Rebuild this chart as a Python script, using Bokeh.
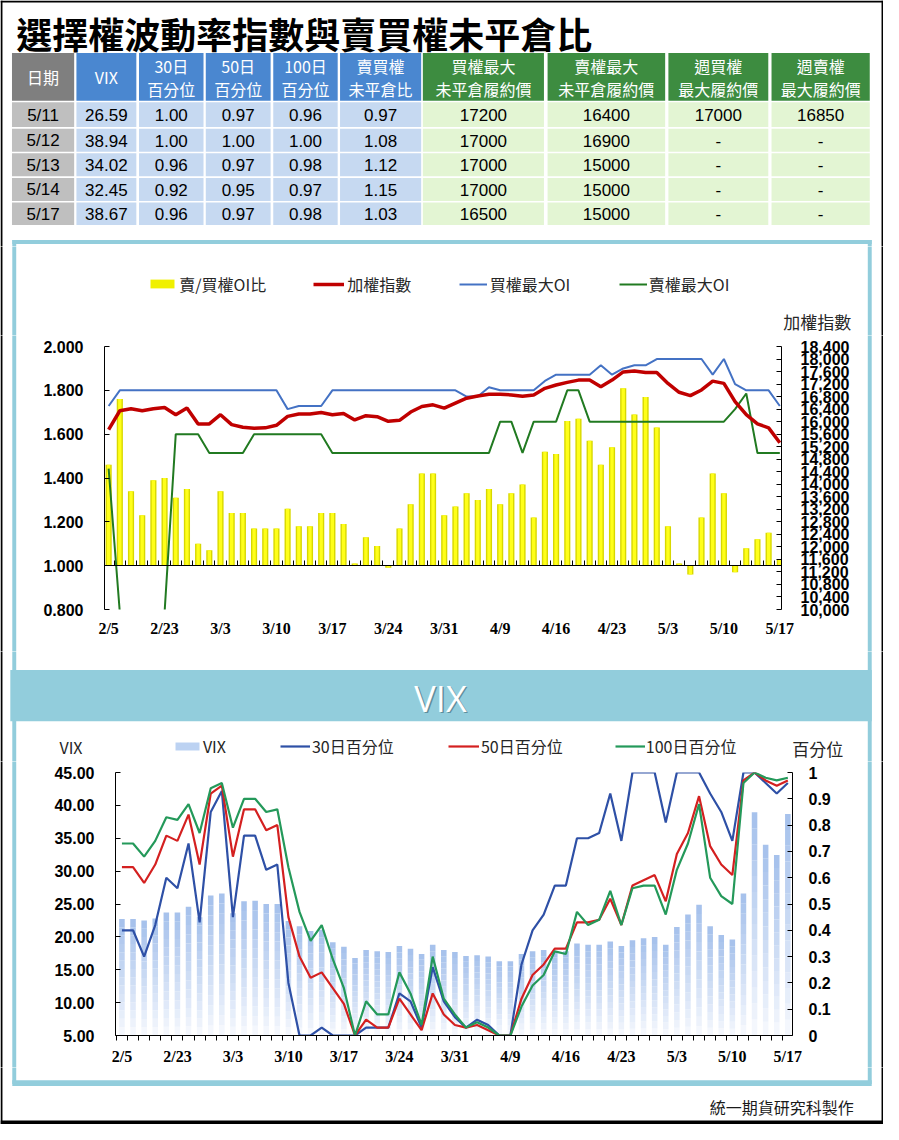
import numpy as np
from bokeh.plotting import figure
from bokeh.models import (Range1d, LinearAxis, FixedTicker, NumeralTickFormatter, Legend,
                          LegendItem, ColumnDataSource)
from bokeh.layouts import column, row
from bokeh.core.properties import value
from bokeh.embed import file_html
from bokeh.resources import INLINE

# ---------------- data ----------------
title_text = "選擇權波動率指數與賣買權未平倉比"

dates = ["2/5", "2/17", "2/18", "2/19", "2/22", "2/23", "2/24", "2/25", "2/26", "3/2",
         "3/3", "3/4", "3/5", "3/8", "3/9", "3/10", "3/11", "3/12", "3/15", "3/16",
         "3/17", "3/18", "3/19", "3/22", "3/23", "3/24", "3/25", "3/26", "3/29", "3/30",
         "3/31", "4/1", "4/6", "4/7", "4/8", "4/9", "4/12", "4/13", "4/14", "4/15",
         "4/16", "4/19", "4/20", "4/21", "4/22", "4/23", "4/26", "4/27", "4/28", "4/29",
         "5/3", "5/4", "5/5", "5/6", "5/7", "5/10", "5/11", "5/12", "5/13", "5/14", "5/17"]
label_idx = list(range(0, 61, 5))

# put/call OI ratio (bars, left axis)
pcr = [1.46, 1.76, 1.34, 1.23, 1.39, 1.40, 1.31, 1.35, 1.10, 1.07,
       1.34, 1.24, 1.24, 1.17, 1.17, 1.17, 1.26, 1.18, 1.18, 1.24,
       1.24, 1.19, 1.01, 1.13, 1.09, 0.99, 1.17, 1.28, 1.42, 1.42,
       1.23, 1.27, 1.33, 1.30, 1.35, 1.28, 1.33, 1.37, 1.22, 1.52,
       1.51, 1.66, 1.67, 1.57, 1.46, 1.54, 1.81, 1.69, 1.77, 1.63,
       1.18, 1.01, 0.96, 1.22, 1.42, 1.33, 0.97, 1.08, 1.12, 1.15, 1.03]
# TAIEX (right axis)
taiex = [15748, 16348, 16411, 16348, 16411, 16452, 16221, 16433, 15928, 15928,
         16221, 15905, 15820, 15789, 15801, 15883, 16168, 16243, 16243, 16294,
         16221, 16262, 16054, 16190, 16158, 16010, 16041, 16307, 16483, 16537,
         16433, 16591, 16749, 16821, 16875, 16875, 16853, 16812, 16853, 17064,
         17169, 17254, 17327, 17327, 17115, 17327, 17589, 17620, 17570, 17570,
         17222, 16938, 16831, 17011, 17295, 17222, 16641, 16221, 15928, 15801, 15328]
# call max OI strike
call_oi = [16500] + [17000] * 15 + [16400] + [16500] * 3 + [17000] * 12 + [16800, 16800, 17100] + \
          [17000] * 4 + [17300] + [17500] * 4 + [17800, 17500, 17700, 17800, 17800] + [18000] * 5 + \
          [17500, 18000, 17200, 17000, 17000, 17000, 16500]
# put max OI strike
put_oi = [14500] + [9900] * 5 + [15600] * 3 + [15000] * 4 + [15600] * 7 + [15000] * 15 + \
         [16000, 16000, 15000, 16000, 16000, 16000, 17000, 17000] + [16000] * 13 + \
         [16400, 16900, 15000, 15000, 15000]

ratio_ticks = [0.8, 1.0, 1.2, 1.4, 1.6, 1.8, 2.0]
idx_ticks = list(range(10000, 18401, 400))

# VIX chart
vix = [22.7, 22.7, 22.5, 22.8, 23.7, 23.7, 24.6, 23.0, 26.3, 26.6,
       23.6, 25.4, 25.5, 25.0, 25.0, 22.4, 21.6, 20.9, 21.1, 19.2,
       18.5, 16.8, 18.0, 17.8, 17.7, 18.6, 18.2, 17.4, 18.8, 18.0,
       17.7, 17.1, 17.2, 17.0, 16.3, 16.3, 17.4, 17.8, 18.0, 17.8,
       17.8, 19.0, 18.8, 18.8, 19.3, 18.6, 19.5, 19.8, 20.0, 18.8,
       21.5, 23.4, 24.9, 21.6, 20.3, 19.6, 26.59, 38.94, 34.02, 32.45, 38.67]
p30 = [0.40, 0.40, 0.30, 0.42, 0.60, 0.56, 0.73, 0.43, 0.85, 0.93,
       0.45, 0.76, 0.76, 0.63, 0.65, 0.20, 0.00, 0.00, 0.03, 0.00,
       0.00, 0.00, 0.03, 0.03, 0.03, 0.16, 0.13, 0.03, 0.26, 0.13,
       0.07, 0.03, 0.06, 0.04, 0.00, 0.00, 0.27, 0.40, 0.46, 0.57,
       0.57, 0.75, 0.75, 0.77, 0.92, 0.74, 1.00, 1.00, 1.00, 0.81,
       1.00, 1.00, 1.00, 0.92, 0.85, 0.74, 1.00, 1.00, 0.96, 0.92, 0.96]
p50 = [0.64, 0.64, 0.58, 0.65, 0.76, 0.74, 0.84, 0.65, 0.92, 0.95,
       0.68, 0.86, 0.86, 0.78, 0.80, 0.45, 0.30, 0.22, 0.24, 0.18,
       0.12, 0.00, 0.06, 0.03, 0.03, 0.14, 0.08, 0.02, 0.16, 0.08,
       0.04, 0.03, 0.04, 0.02, 0.00, 0.00, 0.14, 0.23, 0.27, 0.33,
       0.33, 0.43, 0.43, 0.44, 0.52, 0.42, 0.57, 0.59, 0.61, 0.51,
       0.69, 0.77, 0.91, 0.72, 0.65, 0.61, 0.97, 1.00, 0.97, 0.95, 0.97]
p100 = [0.73, 0.73, 0.68, 0.74, 0.83, 0.82, 0.88, 0.77, 0.94, 0.96,
        0.79, 0.90, 0.90, 0.85, 0.86, 0.64, 0.47, 0.36, 0.42, 0.29,
        0.18, 0.00, 0.13, 0.08, 0.08, 0.24, 0.16, 0.04, 0.30, 0.14,
        0.08, 0.03, 0.05, 0.03, 0.00, 0.00, 0.11, 0.19, 0.23, 0.32,
        0.31, 0.47, 0.42, 0.44, 0.55, 0.42, 0.56, 0.57, 0.57, 0.46,
        0.63, 0.73, 0.88, 0.60, 0.53, 0.50, 0.96, 1.00, 0.98, 0.97, 0.98]
vix_ticks = [5, 10, 15, 20, 25, 30, 35, 40, 45]
pct_ticks = [0.0, 0.1, 0.2, 0.3, 0.4, 0.5, 0.6, 0.7, 0.8, 0.9, 1.0]

# table
tbl_headers = [["日期"], ["VIX"], ["30日", "百分位"], ["50日", "百分位"], ["100日", "百分位"],
               ["賣買權", "未平倉比"], ["買權最大", "未平倉履約價"], ["賣權最大", "未平倉履約價"],
               ["週買權", "最大履約價"], ["週賣權", "最大履約價"]]
tbl_dates = ["5/11", "5/12", "5/13", "5/14", "5/17"]
tbl_vix = ["26.59", "38.94", "34.02", "32.45", "38.67"]
tbl_p30 = ["1.00", "1.00", "0.96", "0.92", "0.96"]
tbl_p50 = ["0.97", "1.00", "0.97", "0.95", "0.97"]
tbl_p100 = ["0.96", "1.00", "0.98", "0.97", "0.98"]
tbl_pcr = ["0.97", "1.08", "1.12", "1.15", "1.03"]
tbl_call_max = ["17200", "17000", "17000", "17000", "16500"]
tbl_put_max = ["16400", "16900", "15000", "15000", "15000"]
tbl_wcall = ["17000", "-", "-", "-", "-"]
tbl_wput = ["16850", "-", "-", "-", "-"]
tbl_cols = [tbl_dates, tbl_vix, tbl_p30, tbl_p50, tbl_p100, tbl_pcr,
            tbl_call_max, tbl_put_max, tbl_wcall, tbl_wput]
footer_text = "統一期貨研究科製作"

# ---------------- layout helpers ----------------
W = 883
SX = 883 / 899.0
SY = 1124 / 1140.0
CJK = "Noto Sans CJK TC"
SANS = "Liberation Sans"
SERIF = "Liberation Serif"
PANEL = "#92cddc"


def X(r):
    return r * SX


def Y(r):
    return r * SY


def deco(x0, x1, y0, y1):
    """figure whose data coordinates are page pixels (y downward)"""
    p = figure(width=x1 - x0, height=y1 - y0, x_range=Range1d(x0, x1), y_range=Range1d(y1, y0),
               output_backend="svg", toolbar_location=None, x_axis_location=None,
               y_axis_location=None, min_border=0, frame_align=False)
    p.grid.visible = False
    p.outline_line_color = None
    return p


def sides(p, r0, r1, panel_r0=None, panel_r1=None):
    """outer black frame sides and light-blue panel sides between ref rows"""
    l, rr, t, b, c = [X(0), X(897)], [X(2), X(899)], [Y(r0), Y(r0)], [Y(r1), Y(r1)], ["black", "black"]
    if panel_r0 is not None:
        l += [X(12), X(883)]; rr += [X(16), X(887)]
        t += [Y(panel_r0)] * 2; b += [Y(panel_r1)] * 2; c += [PANEL, PANEL]
    p.quad(left=l, right=rr, top=t, bottom=b, fill_color=c, line_color=None)


def ptext(p, xr, yr, text, size, font=CJK, align="left", bold=False, color="#262626"):
    p.text(x=[X(xr)], y=[Y(yr)], text=[text], text_font=value(font), text_font_size=f"{size}px",
           text_font_style="bold" if bold else "normal", text_align=align,
           text_baseline="middle", text_color=color)


def legend_at(p, label, rend, x_ref, y_ref, gw=30, gh=12, standoff=3):
    H = p.height
    y_top_page = p.y_range.end
    c = Y(y_ref) - y_top_page
    lg = Legend(items=[LegendItem(label=label, renderers=[rend])],
                location=(X(x_ref) - p.x_range.start, H - c - 12), orientation="horizontal",
                glyph_width=gw, glyph_height=gh, label_standoff=standoff, padding=0, margin=0,
                spacing=0, border_line_color=None, background_fill_alpha=0,
                label_text_font=CJK, label_text_font_size="16px", label_text_color="#262626",
                label_height=24, label_text_baseline="middle")
    p.add_layout(lg, "center")


def style_axis(ax, font, size, standoff, tick_in=5, tick_out=0):
    ax.axis_line_color = "black"
    ax.axis_line_width = 1
    ax.major_tick_line_color = "black"
    ax.major_tick_in = tick_in
    ax.major_tick_out = tick_out
    ax.minor_tick_line_color = None
    ax.major_label_text_font = font
    ax.major_label_text_font_size = f"{size}px"
    ax.major_label_text_font_style = "bold"
    ax.major_label_text_color = "black"
    ax.major_label_standoff = standoff


def strip(x0, x1, y0, y1, r0, r1):
    p = deco(x0, x1, y0, y1)
    sides(p, r0, r1, r0, r1)
    return p


# swatch renderers for the legends: one point far outside the visible range
OFF = [-5000.0]

# page rows (y, px) of the vertical slices
Y_HEAD, Y_UP, Y_TOP, Y_MID, Y_VIX, Y_FOOT, Y_END = 0, 246, 335, 651, 761, 1067, 1124
XL, XR = 17, 865   # chart rows: left strip [0,17], chart [17,865], right strip [865,883]

# ---------------- header + table ----------------
ph = deco(0, W, Y_HEAD, Y_UP)
sides(ph, 0, 260, 243, 260)
ph.quad(left=[X(0), X(12)], right=[X(899), X(887)], top=[Y(0), Y(243)], bottom=[Y(2), Y(247)],
        fill_color=["black", PANEL], line_color=None)
ptext(ph, 16, 33, title_text, 36, bold=True, color="black")

col_x0 = [11.7, 77.3, 141, 209, 277.7, 345.7, 430, 557, 680, 785]
col_x1 = [75, 138.3, 206.7, 275, 343.3, 428.3, 553.3, 676.7, 781.7, 885]
row_y0 = [103.3, 130, 155, 180, 205]
row_y1 = [128.3, 153.3, 178.3, 203.3, 227.7]
head_c = ["#7f7f7f"] + ["#4a87d0"] * 5 + ["#3d8c40"] * 4
body_c = ["#bfbfbf"] + ["#c6d9f1"] * 5 + ["#e3f5d3"] * 4

ql, qr, qt, qb, qc = [], [], [], [], []
for j in range(10):
    ql.append(X(col_x0[j])); qr.append(X(col_x1[j])); qt.append(Y(53.3)); qb.append(Y(101.7)); qc.append(head_c[j])
    for k in range(5):
        ql.append(X(col_x0[j])); qr.append(X(col_x1[j])); qt.append(Y(row_y0[k])); qb.append(Y(row_y1[k]))
        qc.append(body_c[j])
ph.quad(left=ql, right=qr, top=qt, bottom=qb, fill_color=qc, line_color=None)

hx, hy, ht = [], [], []
for j, lines in enumerate(tbl_headers):
    cx_ = X((col_x0[j] + col_x1[j]) / 2)
    if len(lines) == 1:
        hx.append(cx_); hy.append(Y(78)); ht.append(lines[0])
    else:
        hx += [cx_, cx_]; hy += [Y(66.5), Y(89.5)]; ht += lines
ph.text(x=hx, y=hy, text=ht, text_font=value(CJK), text_font_size="16px", text_color="white",
        text_align="center", text_baseline="middle")

bx, by, bt = [], [], []
for j, col in enumerate(tbl_cols):
    cx_ = X((col_x0[j] + col_x1[j]) / 2)
    for k, s in enumerate(col):
        bx.append(cx_); by.append(Y((row_y0[k] + row_y1[k]) / 2 + 0.5)); bt.append(s)
ph.text(x=bx, y=by, text=bt, text_font=value(SANS), text_font_size="17px", text_color="black",
        text_align="center", text_baseline="middle")

# ---------------- top chart: legend band ----------------
pu = deco(0, W, Y_UP, Y_TOP)
sides(pu, 240, 360, 240, 360)
d_bar = pu.vbar(x=OFF, top=OFF, bottom=OFF, width=0.5, fill_color="#f0f000", line_color=None)
d_idx = pu.line(x=OFF * 2, y=OFF * 2, line_color="#c00000", line_width=3.5)
d_call = pu.line(x=OFF * 2, y=OFF * 2, line_color="#4472c4", line_width=2)
d_put = pu.line(x=OFF * 2, y=OFF * 2, line_color="#217a21", line_width=2)
legend_at(pu, "賣/買權OI比", d_bar, 150, 288, gw=30, gh=11, standoff=2)
legend_at(pu, "加權指數", d_idx, 319, 288, gw=31, standoff=3)
legend_at(pu, "買權最大OI", d_call, 467, 288, gw=28, standoff=3)
legend_at(pu, "賣權最大OI", d_put, 630, 288, gw=28, standoff=2)
ptext(pu, 797, 326, "加權指數", 17)

# ---------------- top chart ----------------
H1 = Y_MID - Y_TOP
pt = figure(width=XR - XL, height=H1, x_range=Range1d(-0.37, 60.15), y_range=Range1d(0.8, 2.0),
            output_backend="svg", toolbar_location=None, frame_align=False,
            min_border_left=87, min_border_right=84, min_border_top=11, min_border_bottom=H1 - 11 - 263)
pt.grid.visible = False
pt.outline_line_color = None
pt.extra_y_ranges = {"idx": Range1d(10000, 18400)}

xs = list(range(len(dates)))
src1 = ColumnDataSource(dict(x=xs, pcr=pcr, taiex=taiex, call=call_oi, put=put_oi))

pt.vbar(x="x", width=0.55, bottom=1.0, top="pcr", source=src1, fill_color="#d8d800", line_color=None)
pt.vbar(x="x", width=0.3, bottom=1.0, top="pcr", source=src1, fill_color="#ffff1a", line_color=None)
pt.line("x", "call", source=src1, y_range_name="idx", line_color="#4472c4", line_width=2)
pt.line("x", "put", source=src1, y_range_name="idx", line_color="#217a21", line_width=2)
pt.line("x", "taiex", source=src1, y_range_name="idx", line_color="#c00000", line_width=3.5)

ya = pt.yaxis[0]
ya.ticker = FixedTicker(ticks=ratio_ticks)
ya.formatter = NumeralTickFormatter(format="0.000")
style_axis(ya, SANS, 16, 21)

ra = LinearAxis(y_range_name="idx", ticker=FixedTicker(ticks=idx_ticks),
                formatter=NumeralTickFormatter(format="0,0"))
style_axis(ra, SANS, 16, 19)
pt.add_layout(ra, "right")

xa = pt.xaxis[0]
xa.ticker = FixedTicker(ticks=label_idx)
xa.major_label_overrides = {i: dates[i] for i in label_idx}
style_axis(xa, SERIF, 16, 10, 0, 0)
xa.axis_line_color = None
xa.major_tick_line_color = None

fa = LinearAxis(fixed_location=1.0, ticker=FixedTicker(ticks=[i - 0.5 for i in range(62)]))
style_axis(fa, SANS, 1, 0, 5, 0)
fa.major_label_text_alpha = 0
pt.add_layout(fa, "below")

top_row = row(strip(0, XL, Y_TOP, Y_MID, 330, 670), pt, strip(XR, W, Y_TOP, Y_MID, 330, 670), spacing=0)

# ---------------- VIX banner band ----------------
pm = deco(0, W, Y_MID, Y_VIX)
sides(pm, 650, 790, 650, 790)
pm.quad(left=[X(10)], right=[X(887)], top=[Y(679)], bottom=[Y(731)], fill_color=PANEL, line_color=None)
ptext(pm, 449.5, 709, "VIX", 36, font="Open Sans", align="center", color="#5f8f9c")
ptext(pm, 448, 707.5, "VIX", 36, font="Open Sans", align="center", color="white")
d_vbar = pm.vbar(x=OFF, top=OFF, bottom=OFF, width=0.5, fill_color="#bcd2f2", line_color=None)
d30 = pm.line(x=OFF * 2, y=OFF * 2, line_color="#2e50a6", line_width=2.2)
d50 = pm.line(x=OFF * 2, y=OFF * 2, line_color="#d42020", line_width=2.2)
d100 = pm.line(x=OFF * 2, y=OFF * 2, line_color="#24995a", line_width=2.2)
legend_at(pm, "VIX", d_vbar, 175, 757, gw=30, gh=10, standoff=1)
legend_at(pm, "30日百分位", d30, 285, 757, gw=30, standoff=2)
legend_at(pm, "50日百分位", d50, 456, 757, gw=31, standoff=2)
legend_at(pm, "100日百分位", d100, 626, 757, gw=30, standoff=1)
ptext(pm, 60, 757, "VIX", 16)
ptext(pm, 806, 759, "百分位", 17)

# ---------------- VIX chart ----------------
H2 = Y_FOOT - Y_VIX
pv = figure(width=XR - XL, height=H2, x_range=Range1d(-0.58, 60.42), y_range=Range1d(5, 45),
            output_backend="svg", toolbar_location=None, frame_align=False,
            min_border_left=98, min_border_right=73, min_border_top=11, min_border_bottom=H2 - 11 - 263)
pv.grid.visible = False
pv.outline_line_color = None
pv.extra_y_ranges = {"pct": Range1d(0, 1)}

NSEG = 14
top_c = np.array([0xa4, 0xc0, 0xeb], dtype=float)
bot_c = np.array([0xf8, 0xfa, 0xfe], dtype=float)
sx_, sb_, st_, sc_ = [], [], [], []
for i, v in enumerate(vix):
    for k in range(NSEG):
        t = (k + 0.5) / NSEG
        c = bot_c + (top_c - bot_c) * t ** 0.9
        sx_.append(i)
        sb_.append(5 + (v - 5) * k / NSEG)
        st_.append(5 + (v - 5) * (k + 1) / NSEG)
        sc_.append("#%02x%02x%02x" % tuple(int(round(q)) for q in c))
pv.vbar(x="x", width=0.5, bottom="b", top="t", fill_color="c", line_color=None,
        source=ColumnDataSource(dict(x=sx_, b=sb_, t=st_, c=sc_)))

src2 = ColumnDataSource(dict(x=xs, p30=p30, p50=p50, p100=p100))
pv.line("x", "p30", source=src2, y_range_name="pct", line_color="#2e50a6", line_width=2.2)
pv.line("x", "p50", source=src2, y_range_name="pct", line_color="#d42020", line_width=2.2)
pv.line("x", "p100", source=src2, y_range_name="pct", line_color="#24995a", line_width=2.2)

va = pv.yaxis[0]
va.ticker = FixedTicker(ticks=vix_ticks)
va.formatter = NumeralTickFormatter(format="0.00")
style_axis(va, SANS, 16, 21)

pa = LinearAxis(y_range_name="pct", ticker=FixedTicker(ticks=pct_ticks),
                formatter=NumeralTickFormatter(format="0.[0]"))
style_axis(pa, SANS, 16, 16)
pv.add_layout(pa, "right")

vx = pv.xaxis[0]
vx.ticker = FixedTicker(ticks=label_idx, minor_ticks=[i - 0.5 for i in range(62)])
vx.major_label_overrides = {i: dates[i] for i in label_idx}
style_axis(vx, SERIF, 16, 7, 0, 0)
vx.major_tick_line_color = None
vx.minor_tick_line_color = "black"
vx.minor_tick_in = 0
vx.minor_tick_out = 5

vix_row = row(strip(0, XL, Y_VIX, Y_FOOT, 760, 1090), pv, strip(XR, W, Y_VIX, Y_FOOT, 760, 1090), spacing=0)

# ---------------- footer ----------------
pf = deco(0, W, Y_FOOT, Y_END)
sides(pf, 1075, 1140, 1075, 1099)
pf.quad(left=[X(12), X(0)], right=[X(887), X(899)], top=[Y(1095), Y(1136)], bottom=[Y(1101), Y(1139.5)],
        fill_color=[PANEL, "black"], line_color=None)
ptext(pf, 722, 1122, footer_text, 16, color="#1a1a1a")

layout = column(ph, pu, top_row, pm, vix_row, pf, spacing=0)
open("out.html", "w").write(file_html(layout, INLINE))
